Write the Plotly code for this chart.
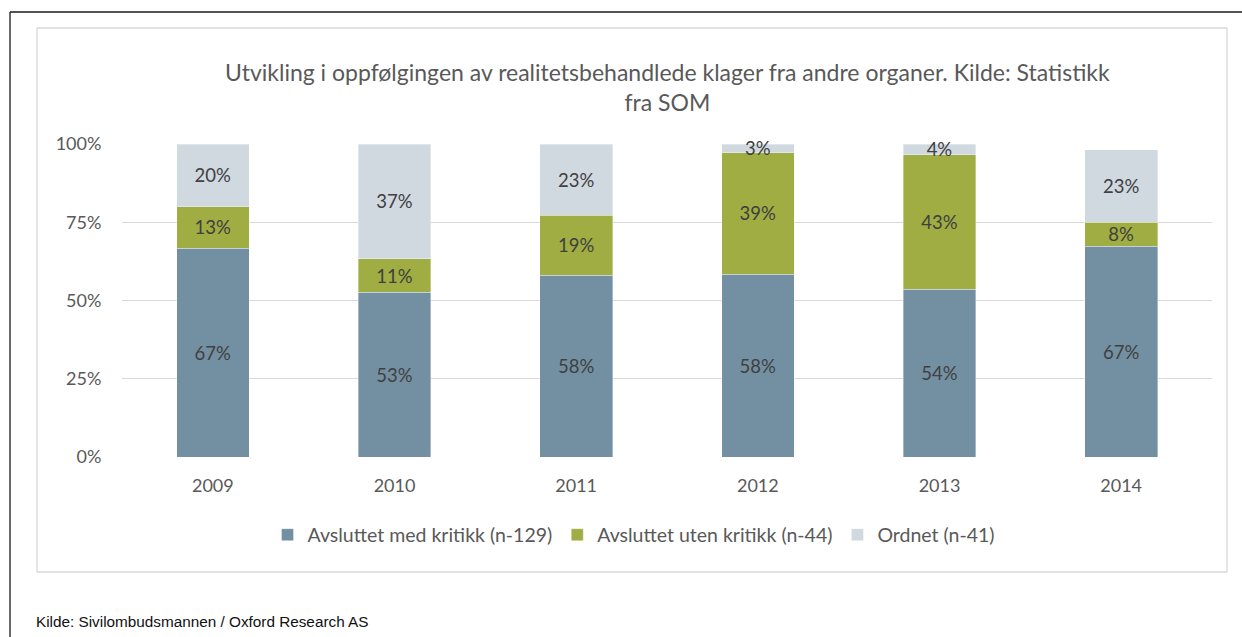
import plotly.graph_objects as go

# Andel saker per år, fordelt på utfall
years = ["2009", "2010", "2011", "2012", "2013", "2014"]
med_kritikk = [0.667, 0.526, 0.581, 0.584, 0.536, 0.674]
uten_kritikk = [0.133, 0.107, 0.192, 0.388, 0.429, 0.076]
ordnet = [0.200, 0.367, 0.227, 0.028, 0.035, 0.231]

series_names = [
    "Avsluttet med kritikk (n-129)",
    "Avsluttet uten kritikk (n-44)",
    "Ordnet (n-41)",
]
series_colors = ["#7390a3", "#9fad42", "#d0d8e0"]

y_ticks = [0, 0.25, 0.5, 0.75, 1.0]
y_tick_labels = ["0%", "25%", "50%", "75%", "100%"]

title_text = ("Utvikling i oppfølgingen av realitetsbehandlede klager fra andre organer. "
              "Kilde: Statistikk<br>fra SOM")
source_text = "Kilde: Sivilombudsmannen / Oxford Research AS"

FONT = "Lato, 'Open Sans', sans-serif"
TEXT_GREY = "#595959"
LABEL_GREY = "#404040"

fig = go.Figure()
for name, vals, col in zip(series_names, [med_kritikk, uten_kritikk, ordnet], series_colors):
    fig.add_trace(go.Bar(
        x=years,
        y=vals,
        name=name,
        marker=dict(color=col, line=dict(color="rgba(255,255,255,0.6)", width=0.6)),
        text=vals,
        texttemplate="%{y:.0%}",
        textposition="inside",
        insidetextanchor="middle",
        constraintext="none",
        textfont=dict(family=FONT, size=18.5, color=LABEL_GREY),
        hoverinfo="skip",
    ))

# Plot area geometry in pixels (used to place frame shapes in paper units)
W, H = 1242, 637
L, R, T, B = 122, 1212, 144, 457


def px(x):
    return (x - L) / (R - L)


def py(y):
    return (B - y) / (B - T)


shapes = [
    # outer frame (top and left edges)
    dict(type="line", xref="paper", yref="paper", x0=px(10), x1=px(W + 5), y0=py(12), y1=py(12),
         line=dict(color="#1a1a1a", width=1.3)),
    dict(type="line", xref="paper", yref="paper", x0=px(10), x1=px(10), y0=py(12), y1=py(H + 5),
         line=dict(color="#1a1a1a", width=1.3)),
    # chart box
    dict(type="rect", xref="paper", yref="paper", x0=px(37), x1=px(1227), y0=py(28), y1=py(572),
         line=dict(color="#d9d9d9", width=1.3), fillcolor="rgba(0,0,0,0)", layer="below"),
]

fig.update_layout(
    width=W,
    height=H,
    barmode="stack",
    bargap=0.6,
    paper_bgcolor="white",
    plot_bgcolor="white",
    margin=dict(l=L, r=W - R, t=T, b=H - B, pad=0),
    font=dict(family=FONT, color=TEXT_GREY),
    showlegend=True,
    legend=dict(
        orientation="h",
        x=px(634), xanchor="center",
        y=py(535), yanchor="middle",
        font=dict(family=FONT, size=19.5, color=TEXT_GREY),
        itemwidth=30,
        traceorder="normal",
    ),
    shapes=shapes,
    annotations=[
        dict(text=title_text, xref="paper", yref="paper", x=px(667), y=py(87),
             xanchor="center", yanchor="middle", showarrow=False, align="center",
             font=dict(family=FONT, size=23, color=TEXT_GREY)),
        dict(text=source_text, xref="paper", yref="paper", x=px(34), y=py(621),
             xanchor="left", yanchor="middle", showarrow=False,
             font=dict(family="'Liberation Sans', Arial, sans-serif", size=15.3, color="#111111")),
    ],
)

fig.update_yaxes(
    range=[0, 1.0],
    tickvals=y_ticks,
    ticktext=y_tick_labels,
    showgrid=True,
    gridcolor="#d9d9d9",
    gridwidth=1.3,
    zeroline=False,
    showline=False,
    ticks="outside",
    ticklen=16,
    tickcolor="rgba(0,0,0,0)",
    tickfont=dict(family=FONT, size=18, color=TEXT_GREY),
    fixedrange=True,
)
fig.update_xaxes(
    showgrid=False,
    showline=False,
    ticks="outside",
    ticklen=12,
    tickcolor="rgba(0,0,0,0)",
    tickfont=dict(family=FONT, size=18, color=TEXT_GREY),
    fixedrange=True,
)

fig.update_traces(cliponaxis=False)

fig.write_html("out.html", config=dict(displayModeBar=False))
